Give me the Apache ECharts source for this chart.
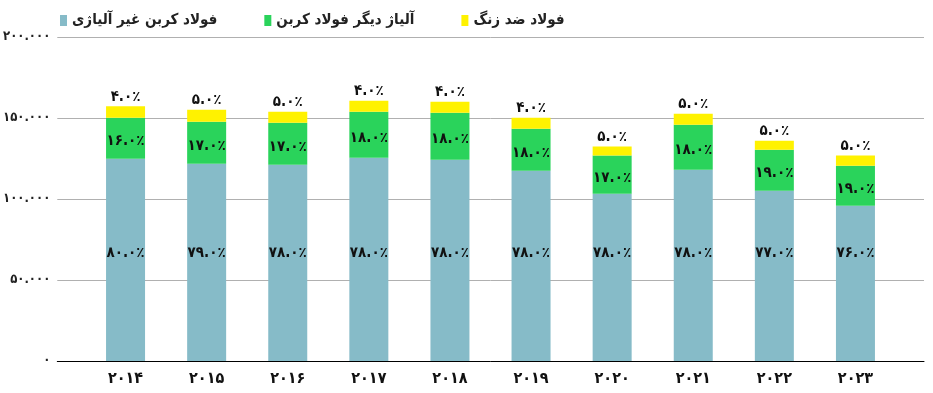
<!DOCTYPE html>
<html>
<head>
<meta charset="utf-8">
<script src="https://cdn.jsdelivr.net/npm/echarts@6/dist/echarts.min.js"></script>
<style>html,body{margin:0;padding:0;background:#fff;}#c{width:933px;height:393px;}</style>
</head>
<body>
<div id="c"></div>
<script>
const categories = ['۲۰۱۴','۲۰۱۵','۲۰۱۶','۲۰۱۷','۲۰۱۸','۲۰۱۹','۲۰۲۰','۲۰۲۱','۲۰۲۲','۲۰۲۳'];
const seriesNames = ['فولاد کربن غیر آلیاژی', 'آلیاژ دیگر فولاد کربن', 'فولاد ضد زنگ'];
const carbonValues = [124900, 121800, 121200, 125500, 124300, 117500, 103300, 118100, 105100, 95900];
const alloyValues = [25300, 25900, 25900, 28400, 29000, 25900, 23500, 27800, 25300, 24700];
const stainlessValues = [7000, 7400, 6800, 6800, 6800, 6800, 5600, 6800, 5600, 6200];
const carbonShare = [80, 79, 78, 78, 78, 78, 78, 78, 77, 76];
const alloyShare = [16, 17, 17, 18, 18, 18, 17, 18, 19, 19];
const stainlessShare = [4, 5, 5, 4, 4, 4, 5, 5, 5, 5];
const yTicks = { min: 0, max: 200000, interval: 50000 };

const FONT = '"DejaVu Sans Condensed", "DejaVu Sans"';
const fa = s => String(s).replace(/\d/g, d => '۰۱۲۳۴۵۶۷۸۹'[d]);
const pct = v => fa(v.toFixed(1)) + '٪';
const yFmt = v => v === 0 ? fa(0) : fa(String(v).replace(/\B(?=(\d{3})+(?!\d))/g, '.'));

const colors = ['#86bbc8', '#2ad35b', '#fff200'];
const labelStyle = { color: '#111', fontFamily: FONT, fontWeight: 'bold', fontSize: 15 };

function mk(name, values, shares, color, label) {
  return {
    name, type: 'bar', stack: 'total', xAxisIndex: 0, yAxisIndex: 0,
    barWidth: 39, itemStyle: { color },
    data: values.map((v, i) => ({ value: v, label: { formatter: pct(shares[i]) } })),
    label: Object.assign({ show: true }, labelStyle, label)
  };
}

const chart = echarts.init(document.getElementById('c'), null, { renderer: 'canvas' });
chart.setOption({
  animation: false,
  backgroundColor: '#fff',
  color: colors,
  legend: {
    left: 55, top: 8, itemWidth: 7, itemHeight: 11, itemGap: 47,
    icon: 'rect',
    textStyle: { fontFamily: FONT, fontWeight: 'bold', fontSize: 15, color: '#222' },
    data: seriesNames
  },
  grid: [
    { left: 85, right: 37, top: 37, bottom: 32 },
    { left: 57, right: 9, top: 37, bottom: 32 }
  ],
  xAxis: [
    {
      gridIndex: 0, type: 'category', data: categories,
      axisLine: { show: false }, axisTick: { show: false },
      axisLabel: { interval: 0, margin: 10, color: '#111', fontFamily: FONT, fontWeight: 'bold', fontSize: 16 }
    },
    {
      gridIndex: 1, type: 'value', min: 0, max: 1,
      axisLine: { show: true, lineStyle: { color: '#000', width: 1 } },
      axisTick: { show: false }, axisLabel: { show: false }, splitLine: { show: false }
    }
  ],
  yAxis: [
    {
      gridIndex: 0, type: 'value', min: yTicks.min, max: yTicks.max, interval: yTicks.interval,
      show: false, splitLine: { show: false }
    },
    {
      gridIndex: 1, type: 'value', min: yTicks.min, max: yTicks.max, interval: yTicks.interval,
      axisLine: { show: false }, axisTick: { show: false },
      axisLabel: { formatter: yFmt, margin: 7, color: '#222', fontFamily: FONT, fontWeight: 'bold', fontSize: 13 },
      splitLine: { show: true, lineStyle: { color: '#b0b0b0', width: 1 } }
    }
  ],
  series: [
    mk(seriesNames[0], carbonValues, carbonShare, colors[0], { position: 'insideBottom', distance: 100 }),
    mk(seriesNames[1], alloyValues, alloyShare, colors[1], { position: 'inside', offset: [0, 3] }),
    mk(seriesNames[2], stainlessValues, stainlessShare, colors[2], { position: 'top', distance: 2 })
  ]
});
</script>
</body>
</html>
